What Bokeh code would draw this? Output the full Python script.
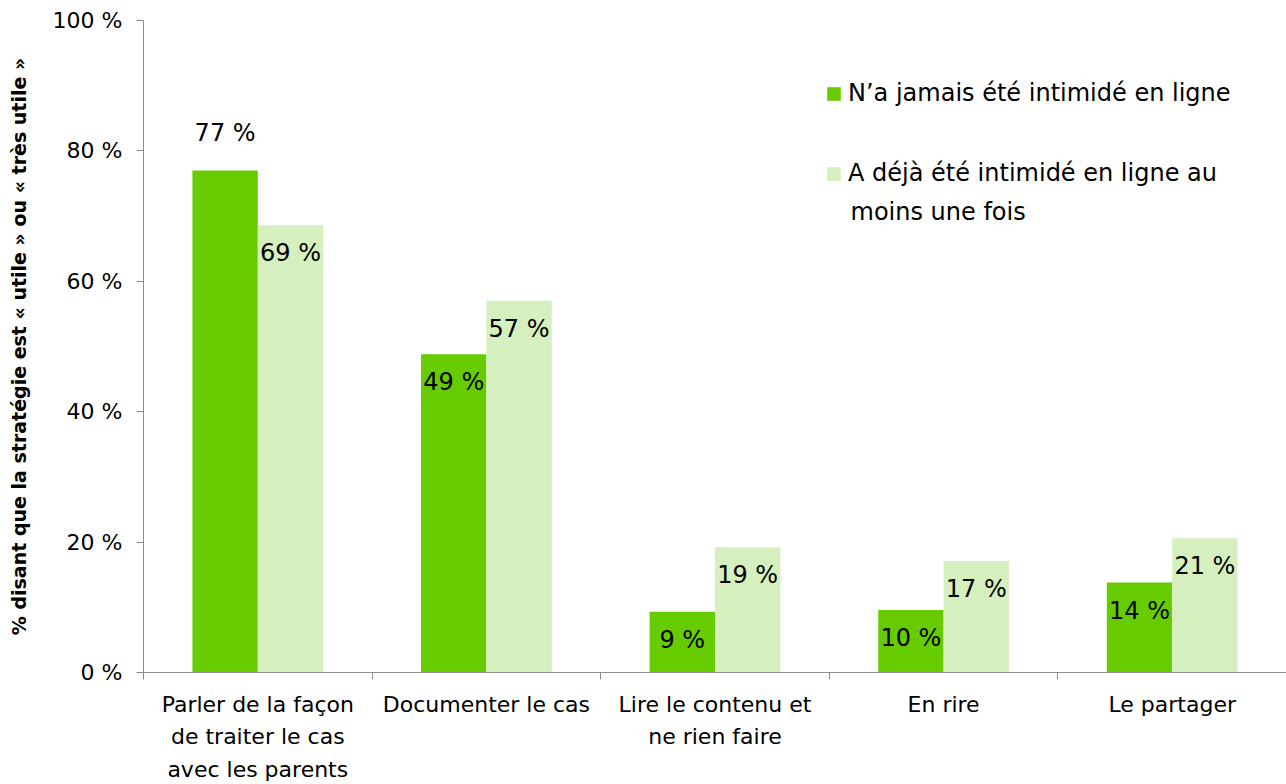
from bokeh.plotting import figure
from bokeh.models import ColumnDataSource, FixedTicker, Legend, LegendItem, Range1d, Label
from bokeh.core.properties import value
from bokeh.embed import file_html
from bokeh.resources import INLINE

categories = ["Parler de la façon\nde traiter le cas\navec les parents", "Documenter le cas",
              "Lire le contenu et\nne rien faire", "En rire", "Le partager"]
never_bullied = [77.0, 48.8, 9.3, 9.6, 13.8]
already_bullied = [68.6, 57.0, 19.2, 17.1, 20.6]
series_names = ["N\u2019a jamais été intimidé en ligne", "A déjà été intimidé en ligne au", "moins une fois"]
y_ticks = [0, 20, 40, 60, 80, 100]

FONT = "DejaVu Sans"
DARK = "#66CC00"
LIGHT = "#D5F0BE"
AXIS = "#8c8c8c"

n = len(categories)
centers = [i + 0.5 for i in range(n)]
dodge = 0.143
bw = 0.286

p = figure(frame_width=1143, frame_height=652, output_backend="svg", toolbar_location=None,
           x_range=Range1d(0, n), y_range=Range1d(0, 100),
           min_border_left=143, min_border_top=20, min_border_right=0, min_border_bottom=0)
p.outline_line_color = None
p.xgrid.visible = False
p.ygrid.visible = False

top_val = max(never_bullied + already_bullied)


def lab(v):
    return f"{int(v + 0.5)} %"


src1 = ColumnDataSource(dict(x=[c - dodge for c in centers], top=never_bullied,
                             lab=[lab(v) for v in never_bullied],
                             off=[-37 if v == top_val else 28 for v in never_bullied]))
src2 = ColumnDataSource(dict(x=[c + dodge for c in centers], top=already_bullied,
                             lab=[lab(v) for v in already_bullied],
                             off=[-37 if v == top_val else 28 for v in already_bullied]))

r1 = p.vbar(x="x", top="top", width=bw, bottom=0, source=src1, fill_color=DARK, line_color=None)
r2 = p.vbar(x="x", top="top", width=bw, bottom=0, source=src2, fill_color=LIGHT, line_color=None)

for s in (src1, src2):
    p.text(x="x", y="top", text="lab", source=s, y_offset="off", text_align="center",
           text_baseline="middle", text_font=value(FONT), text_font_size="24px", text_color="#000000")

# axes
ya = p.yaxis[0]
ya.ticker = FixedTicker(ticks=y_ticks, minor_ticks=[])
ya.major_label_overrides = {t: f"{t} %" for t in y_ticks}
ya.major_label_text_font = FONT
ya.major_label_text_font_size = "22px"
ya.major_label_text_color = "#000000"
ya.major_tick_out = 7
ya.major_tick_in = 0
ya.major_label_standoff = 14
ya.axis_line_color = AXIS
ya.major_tick_line_color = AXIS
ya.axis_label = "% disant que la stratégie est « utile » ou « très utile »"
ya.axis_label_text_font = "DejaVu Sans"
ya.axis_label_text_font_style = "bold"
ya.axis_label_text_font_size = "19px"
ya.axis_label_text_color = "#000000"
ya.axis_label_standoff = 20

xa = p.xaxis[0]
xa.ticker = FixedTicker(ticks=centers, minor_ticks=list(range(n + 1)))
xa.major_label_overrides = {c: lab_ for c, lab_ in zip(centers, categories)}
xa.major_label_text_font = FONT
xa.major_label_text_font_size = "22px"
xa.major_label_text_line_height = 1.3
xa.major_label_text_color = "#000000"
xa.major_tick_out = 0
xa.major_tick_in = 0
xa.minor_tick_out = 7
xa.minor_tick_in = 0
xa.minor_tick_line_color = AXIS
xa.axis_line_color = AXIS
xa.major_label_standoff = 12

legend = Legend(items=[LegendItem(label=series_names[0], renderers=[r1]),
                       LegendItem(label=series_names[1], renderers=[r2])],
                location=(682, 485), orientation="vertical")
legend.label_text_font = FONT
legend.label_text_font_size = "24px"
legend.label_text_color = "#000000"
legend.glyph_width = 17
legend.glyph_height = 17
legend.label_standoff = 6
legend.spacing = 52
legend.padding = 0
legend.margin = 0
legend.border_line_color = None
legend.background_fill_alpha = 0
p.add_layout(legend)

p.add_layout(Label(x=707, y=461, x_units="screen", y_units="screen", text=series_names[2],
                   text_font=FONT, text_font_size="24px", text_color="#000000",
                   text_baseline="middle"))

open("out.html", "w").write(file_html(p, INLINE))
